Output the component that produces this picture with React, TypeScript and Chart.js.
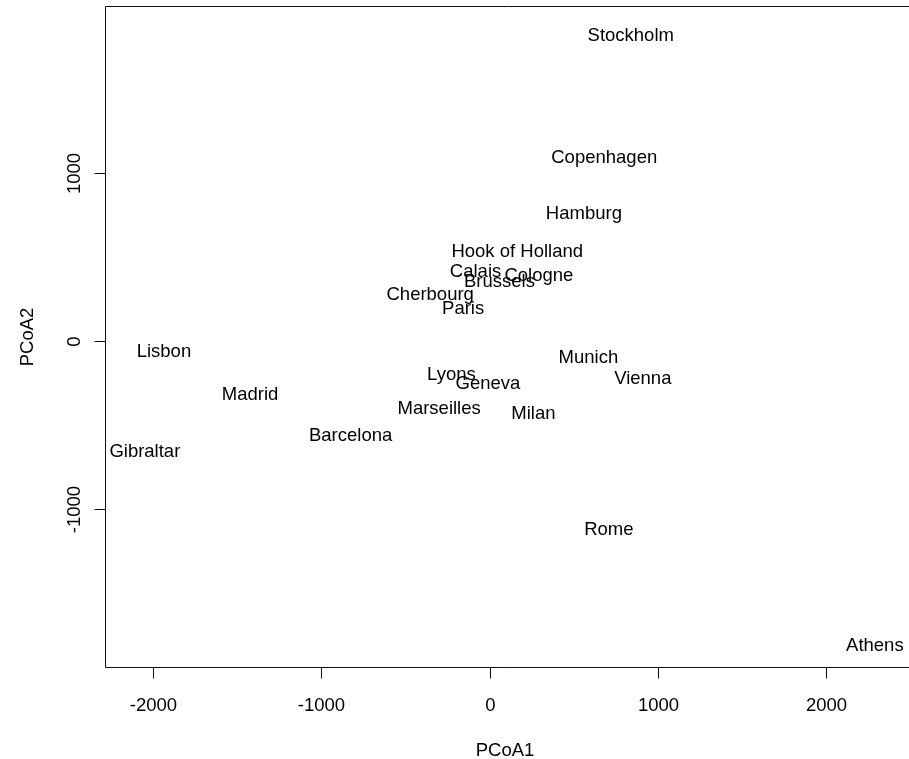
import React, { useEffect, useRef } from "react";
import { Chart, registerables } from "chart.js";

Chart.register(...registerables);

const cities = [
  "Athens", "Barcelona", "Brussels", "Calais", "Cherbourg", "Cologne", "Copenhagen",
  "Geneva", "Gibraltar", "Hamburg", "Hook of Holland", "Lisbon", "Lyons", "Madrid",
  "Marseilles", "Milan", "Munich", "Paris", "Rome", "Stockholm", "Vienna",
];
const pcoa1 = [
  2290.27, -825.38, 59.18, -82.85, -352.5, 293.69, 681.93,
  -9.42, -2048.45, 561.11, 164.92, -1935.04, -226.42, -1423.35,
  -299.5, 260.88, 587.67, -156.84, 709.41, 839.45, 911.23,
];
const pcoa2 = [
  -1798.8, -546.81, 367.08, 429.91, 290.91, 405.31, 1108.64,
  -240.41, -642.46, 773.37, 549.37, -49.13, -187.09, -305.88,
  -388.81, -416.67, -81.18, 211.14, -1109.37, 1836.79, -205.93,
];
const xTicks = [-2000, -1000, 0, 1000, 2000];
const yTicks = [-1000, 0, 1000];
const xTitle = "PCoA1";
const yTitle = "PCoA2";

const FONT = '18.5px "Liberation Sans", Arial, sans-serif';

const drawPlugin = {
  id: "rstyle",
  afterDatasetsDraw(chart: any) {
    const { ctx, chartArea, scales } = chart;
    const xs = scales.x;
    const ys = scales.y;
    const W = chart.width;
    ctx.save();
    // box
    ctx.strokeStyle = "#111";
    ctx.lineWidth = 1;
    const L = Math.round(chartArea.left) + 0.5;
    const T = Math.round(chartArea.top) + 0.5;
    const B = Math.round(chartArea.bottom) - 0.5;
    ctx.beginPath();
    ctx.moveTo(W + 2, T);
    ctx.lineTo(L, T);
    ctx.lineTo(L, B);
    ctx.lineTo(W + 2, B);
    ctx.stroke();

    ctx.fillStyle = "#000";
    ctx.font = FONT;
    ctx.textAlign = "center";
    ctx.textBaseline = "alphabetic";
    // x ticks
    xTicks.forEach((v) => {
      const px = Math.round(xs.getPixelForValue(v)) + 0.5;
      ctx.beginPath();
      ctx.moveTo(px, B);
      ctx.lineTo(px, B + 11);
      ctx.stroke();
      ctx.fillText(String(v), px, B + 43);
    });
    // y ticks
    yTicks.forEach((v) => {
      const py = Math.round(ys.getPixelForValue(v)) + 0.5;
      ctx.beginPath();
      ctx.moveTo(L, py);
      ctx.lineTo(L - 11, py);
      ctx.stroke();
      ctx.save();
      ctx.translate(80, py);
      ctx.rotate(-Math.PI / 2);
      ctx.fillText(String(v), 0, 0);
      ctx.restore();
    });
    // titles
    ctx.fillText(xTitle, 505, 756);
    ctx.save();
    ctx.translate(33, (chartArea.top + chartArea.bottom) / 2);
    ctx.rotate(-Math.PI / 2);
    ctx.fillText(yTitle, 0, 0);
    ctx.restore();

    // city labels
    ctx.beginPath();
    ctx.rect(chartArea.left, chartArea.top, chartArea.right - chartArea.left, chartArea.bottom - chartArea.top);
    ctx.clip();
    const meta = chart.getDatasetMeta(0);
    meta.data.forEach((pt: any, i: number) => {
      ctx.fillText(cities[i], pt.x, pt.y + 8);
    });
    ctx.restore();
  },
};

export default function App() {
  const ref = useRef<HTMLCanvasElement>(null);
  useEffect(() => {
    if (!ref.current) return;
    const chart = new Chart(ref.current, {
      type: "scatter",
      data: {
        datasets: [
          {
            data: pcoa1.map((x, i) => ({ x, y: pcoa2[i] })),
            pointRadius: 0,
            pointHoverRadius: 0,
          },
        ],
      },
      options: {
        responsive: false,
        animation: false,
        devicePixelRatio: 1,
        layout: { padding: { left: 105, top: 6, right: 0, bottom: 91 } },
        plugins: { legend: { display: false }, tooltip: { enabled: false } },
        scales: {
          x: { type: "linear", display: false, min: -2285.3, max: 2493.3 },
          y: { type: "linear", display: false, min: -1949.9, max: 1997.6 },
        },
      },
      plugins: [drawPlugin],
    });
    return () => chart.destroy();
  }, []);
  return (
    <div style={{ position: "fixed", left: 0, top: 0, width: 909, height: 759, background: "#fff" }}>
      <canvas ref={ref} width={909} height={759} style={{ display: "block" }} />
    </div>
  );
}
